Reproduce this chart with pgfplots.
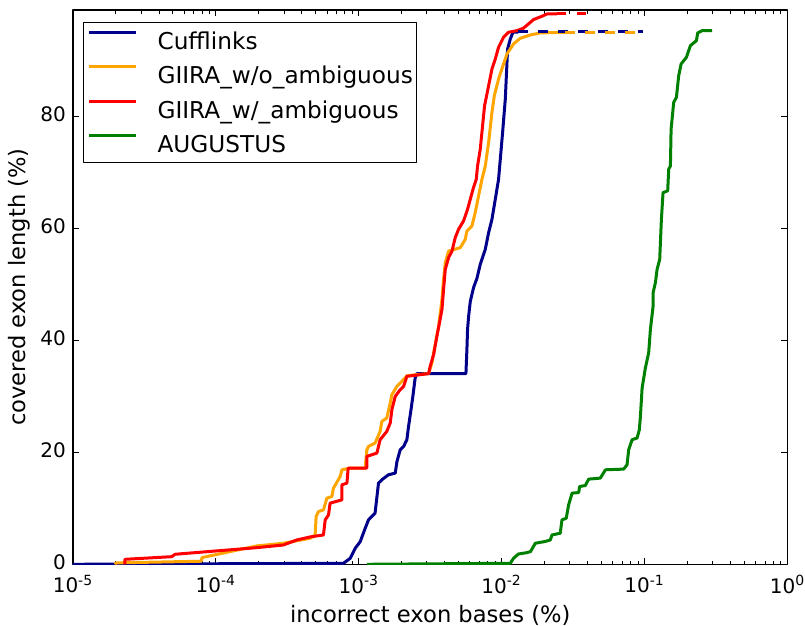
\documentclass[border=0pt]{standalone}
\usepackage{fontspec}
\setmainfont{DejaVu Sans}
\usepackage{pgfplots}
\pgfplotsset{compat=1.18}
\definecolor{cdarkblue}{HTML}{00008B}
\definecolor{corange}{HTML}{FFA500}
\definecolor{cred}{HTML}{FF0000}
\definecolor{cgreen}{HTML}{008000}
\begin{document}
\begin{tikzpicture}
\begin{axis}[
  at={(0,0)}, anchor=south west,
  scale only axis, width=357.25pt, height=277.15pt,
  xmode=log, xmin=1e-5, xmax=1, ymin=0, ymax=99,
  ytick={0,20,40,60,80},
  xtick={1e-5,1e-4,1e-3,1e-2,1e-1,1},
  xticklabels={10\textsuperscript{-5},10\textsuperscript{-4},10\textsuperscript{-3},10\textsuperscript{-2},10\textsuperscript{-1},10\textsuperscript{0}},
  minor xtick={2e-5,3e-5,4e-5,5e-5,6e-5,7e-5,8e-5,9e-5,2e-4,3e-4,4e-4,5e-4,6e-4,7e-4,8e-4,9e-4,2e-3,3e-3,4e-3,5e-3,6e-3,7e-3,8e-3,9e-3,2e-2,3e-2,4e-2,5e-2,6e-2,7e-2,8e-2,9e-2,0.2,0.3,0.4,0.5,0.6,0.7,0.8,0.9},
  tick align=inside, major tick length=3pt, minor tick length=1.75pt,
  every tick/.style={black, line width=0.5pt},
  axis line style={line width=0.6pt},
  /pgf/number format/assume math mode=true,
  ticklabel style={font=\fontsize{10}{12}\selectfont},
  xticklabel style={yshift=-2pt},
  yticklabel style={yshift=1pt},
  xlabel={incorrect exon bases (\%)}, ylabel={covered exon length (\%)},
  label style={font=\fontsize{11.3}{13}\selectfont},
  xlabel style={yshift=1pt},
  ylabel style={yshift=-1.5pt},
  line join=round,
  legend cell align=left,
  legend style={
    at={(0.0144,0.979)}, anchor=north west,
    draw=black, line width=0.6pt, fill=white,
    font=\fontsize{11.6}{13}\selectfont,
    inner xsep=2pt, inner ysep=2pt,
    row sep=2.6pt,
    nodes={inner sep=0pt, text height=11.6pt, text depth=2.95pt},
    /tikz/every odd column/.append style={column sep=10pt},
  },
  legend image code/.code={\path (0pt,4.1pt) -- (23.35pt,4.1pt); \draw[#1] (5.5pt,4.1pt) -- (23.35pt,4.1pt);},
]
\addplot[cdarkblue, line width=1.5pt] coordinates {
(1e-5,0) (7.81e-4,0.18) (8.71e-4,1.07) (9.44e-4,2.86) (1.023e-3,4.04) (1.109e-3,6.44) (1.169e-3,7.93) (1.30e-3,9.13) (1.374e-3,14.5) (1.45e-3,15.09) (1.61e-3,15.98) (1.80e-3,16.29) (1.85e-3,18.36) (1.95e-3,20.46) (2.06e-3,21.05) (2.17e-3,22.25) (2.23e-3,24.63) (2.32e-3,27.62) (2.39e-3,30.0) (2.48e-3,33.29) (2.55e-3,34.06) (5.62e-3,34.06) (5.71e-3,38.35) (5.77e-3,41.93) (5.87e-3,44.31) (6.03e-3,46.94) (6.36e-3,49.45) (6.71e-3,51.06) (7.08e-3,53.57) (7.68e-3,56.25) (8.10e-3,59.24) (8.55e-3,61.62) (9.02e-3,65.2) (9.51e-3,68.78) (9.78e-3,72.36) (1.015e-2,77.14) (1.06e-2,83.1) (1.10e-2,92.04) (1.149e-2,93.83) (1.20e-2,95.03) (1.31e-2,95.03)
};
\addlegendentry{Cufflinks}
\addplot[corange, line width=1.5pt] coordinates {
(1.97e-5,0.0) (2.0e-5,0.25) (7.9e-5,0.55) (8.0e-5,1.2) (1.93e-4,3.28) (2.97e-4,3.76) (4.57e-4,4.65) (4.95e-4,5.24) (5.03e-4,8.52) (5.22e-4,9.41) (5.66e-4,9.72) (5.98e-4,11.81) (6.48e-4,12.1) (6.65e-4,13.6) (7.41e-4,15.68) (7.62e-4,16.88) (8.71e-4,17.18) (1.109e-3,17.18) (1.139e-3,20.46) (1.169e-3,21.05) (1.30e-3,21.66) (1.41e-3,23.73) (1.45e-3,25.52) (1.57e-3,26.13) (1.66e-3,28.81) (1.705e-3,30.3) (1.85e-3,31.79) (1.95e-3,32.39) (2.11e-3,33.29) (2.17e-3,33.7) (3.08e-3,34.06) (3.25e-3,35.97) (3.34e-3,37.76) (3.62e-3,42.52) (3.82e-3,47.3) (3.92e-3,50.88) (4.03e-3,53.87) (4.25e-3,55.95) (5.13e-3,56.55) (5.56e-3,58.04) (5.71e-3,59.53) (6.19e-3,60.42) (6.53e-3,62.82) (6.89e-3,65.79) (7.28e-3,68.78) (7.68e-3,71.16) (8.10e-3,75.35) (8.55e-3,80.72) (8.88e-3,83.69) (9.51e-3,86.68) (1.021e-2,89.06) (1.089e-2,91.15) (1.21e-2,92.94) (1.35e-2,93.96) (1.59e-2,94.55) (1.86e-2,94.91) (2.79e-2,95.03)
};
\addlegendentry{GIIRA\_w/o\_ambiguous}
\addplot[cred, line width=1.5pt] coordinates {
(2.31e-5,0) (2.31e-5,0.89) (4.91e-5,1.36) (5.18e-5,1.79) (1.93e-4,2.97) (2.97e-4,3.45) (3.69e-4,4.35) (4.57e-4,4.89) (5.66e-4,5.24) (5.82e-4,7.93) (6.14e-4,8.82) (6.30e-4,10.92) (7.62e-4,11.51) (7.62e-4,14.19) (8.26e-4,14.5) (8.43e-4,17.18) (1.139e-3,17.18) (1.139e-3,19.26) (1.339e-3,19.87) (1.41e-3,22.25) (1.57e-3,23.73) (1.66e-3,25.24) (1.705e-3,27.62) (1.80e-3,30.0) (1.95e-3,31.19) (2.06e-3,31.79) (2.17e-3,33.57) (3.08e-3,34.06) (3.16e-3,35.37) (3.34e-3,37.46) (3.52e-3,40.73) (3.67e-3,43.13) (3.82e-3,45.51) (3.92e-3,49.09) (4.03e-3,52.67) (4.25e-3,54.77) (4.49e-3,55.95) (4.73e-3,58.34) (4.99e-3,59.83) (5.41e-3,61.32) (5.77e-3,63.41) (6.03e-3,65.2) (6.30e-3,66.99) (6.64e-3,68.78) (6.78e-3,71.16) (7.08e-3,74.15) (7.35e-3,78.32) (7.59e-3,81.9) (8.10e-3,85.48) (8.55e-3,88.47) (9.02e-3,90.26) (9.51e-3,92.35) (1.031e-2,94.14) (1.118e-2,95.03) (1.28e-2,95.32) (1.42e-2,95.75) (1.54e-2,96.52) (1.67e-2,97.29) (1.92e-2,97.9) (2.08e-2,98.31) (2.44e-2,98.31)
};
\addlegendentry{GIIRA\_w/\_ambiguous}
\addplot[cgreen, line width=1.5pt] coordinates {
(1.139e-3,0) (1.149e-2,0.18) (1.21e-2,1.07) (1.31e-2,1.84) (1.50e-2,2.08) (1.59e-2,2.26) (1.72e-2,3.76) (2.02e-2,4.08) (2.19e-2,4.35) (2.25e-2,5.24) (2.57e-2,5.55) (2.64e-2,7.93) (2.83e-2,8.23) (2.94e-2,10.61) (3.11e-2,12.71) (3.46e-2,12.81) (3.51e-2,13.89) (3.85e-2,14.07) (4.06e-2,15.21) (4.90e-2,15.39) (5.32e-2,16.88) (7.14e-2,17.0) (7.54e-2,17.77) (7.74e-2,20.46) (8.18e-2,22.25) (8.86e-2,22.55) (9.19e-2,24.04) (9.35e-2,26.42) (9.61e-2,31.5) (0.1013,35.08) (0.1068,37.76) (0.1098,41.93) (0.1147,46.1) (0.1147,48.5) (0.119,50.29) (0.1223,52.67) (0.1276,54.46) (0.1311,61.62) (0.1347,66.4) (0.1451,66.69) (0.1475,70.57) (0.1516,71.16) (0.1533,77.73) (0.1599,82.51) (0.167,83.4) (0.1733,87.27) (0.1801,89.36) (0.1962,90.56) (0.2093,92.64) (0.2305,93.53) (0.2354,94.91) (0.2527,95.32) (0.297,95.32)
};
\addlegendentry{AUGUSTUS}
\addplot[cdarkblue, line width=1.5pt, dash pattern=on 4.6pt off 5.4pt, forget plot] coordinates {(1.31e-2,95.1) (9.76e-2,95.1)};
\addplot[corange, line width=1.5pt, dash pattern=on 4.6pt off 5.4pt, forget plot] coordinates {(2.79e-2,94.95) (9.76e-2,94.95)};
\addplot[cred, line width=1.5pt, dash pattern=on 4.6pt off 5.4pt, forget plot] coordinates {(2.44e-2,98.31) (4.17e-2,98.31)};
\end{axis}
\pgfresetboundingbox
\path[use as bounding box] (-36.5pt,-30.85pt) rectangle (366pt,282.15pt);
\end{tikzpicture}
\end{document}
